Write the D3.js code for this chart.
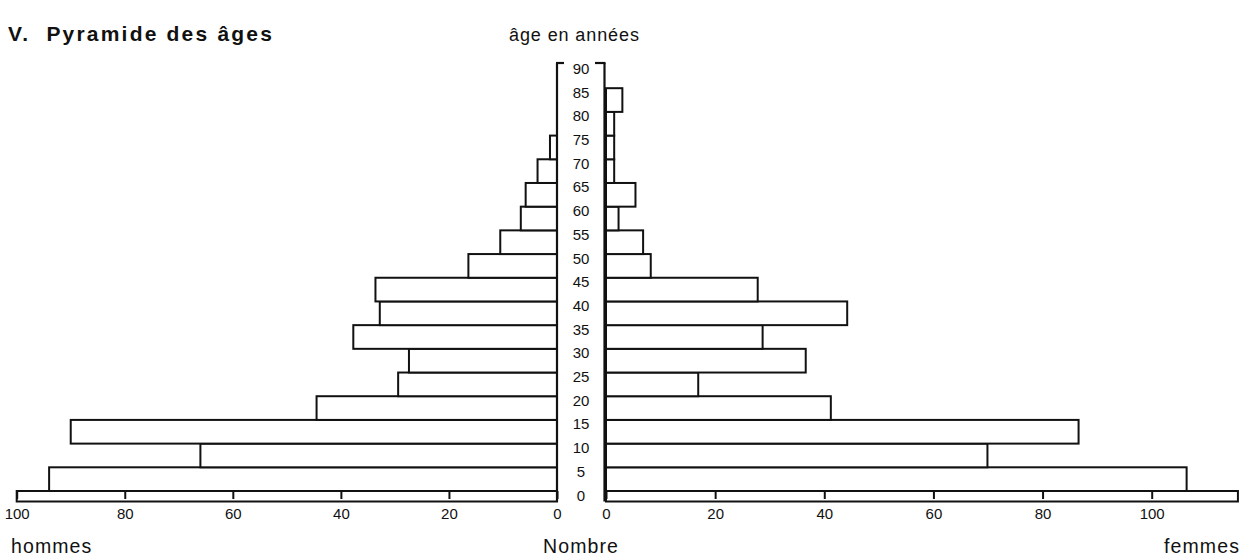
<!DOCTYPE html>
<html>
<head>
<meta charset="utf-8">
<script src="https://cdn.jsdelivr.net/npm/d3@7"></script>
<style>
  body { margin: 0; background: #fff; }
  svg text { font-family: "Liberation Sans", Arial, Helvetica, sans-serif; fill: #111; }
</style>
</head>
<body>
<script>
// age groups (lower bound of each 5-year band)
const ages = [0, 5, 10, 15, 20, 25, 30, 35, 40, 45, 50, 55, 60, 65, 70, 75, 80, 85];
const hommes = [94, 66, 90, 44.5, 29.4, 27.4, 37.7, 32.8, 33.6, 16.4, 10.5, 6.7, 5.8, 3.6, 1.3, 0, 0, 0];
const femmes = [106.4, 69.9, 86.6, 41.2, 16.9, 36.6, 28.7, 44.2, 27.8, 8.2, 6.8, 2.3, 5.4, 1.5, 1.5, 1.5, 3, 0];
const ageTicks = [0, 5, 10, 15, 20, 25, 30, 35, 40, 45, 50, 55, 60, 65, 70, 75, 80, 85, 90];
const leftTicks = [0, 20, 40, 60, 80, 100];
const rightTicks = [0, 20, 40, 60, 80, 100];

main();

function main() {
  const width = 1244;
  const height = 556;
  const ink = "#111";
  const sw = 2;

  const svg = d3.select("body").append("svg")
    .attr("width", width)
    .attr("height", height);

  const xL = d3.scaleLinear().domain([0, 100]).range([557, 16.7]);
  const xR = d3.scaleLinear().domain([0, 100]).range([606, 1151.7]);
  const y = d3.scaleLinear().domain([0, 90]).range([491, 64.5]);
  const rightMax = 115.8;
  const stripH = 10.5;

  // bars
  svg.append("g").selectAll("rect")
    .data(ages.filter((a, i) => hommes[i] > 0))
    .join("rect")
    .attr("x", a => xL(hommes[ages.indexOf(a)]))
    .attr("y", a => y(a + 5))
    .attr("width", a => xL(0) - xL(hommes[ages.indexOf(a)]))
    .attr("height", a => y(a) - y(a + 5))
    .attr("fill", "#fff").attr("stroke", ink).attr("stroke-width", sw);

  svg.append("g").selectAll("rect")
    .data(ages.filter((a, i) => femmes[i] > 0))
    .join("rect")
    .attr("x", xR(0))
    .attr("y", a => y(a + 5))
    .attr("width", a => xR(femmes[ages.indexOf(a)]) - xR(0))
    .attr("height", a => y(a) - y(a + 5))
    .attr("fill", "#fff").attr("stroke", ink).attr("stroke-width", sw);

  // bottom strips
  svg.append("rect")
    .attr("x", xL(100)).attr("y", y(0))
    .attr("width", xL(0) - xL(100)).attr("height", stripH)
    .attr("fill", "#fff").attr("stroke", ink).attr("stroke-width", sw);
  svg.append("rect")
    .attr("x", xR(0)).attr("y", y(0))
    .attr("width", xR(rightMax) - xR(0)).attr("height", stripH)
    .attr("fill", "#fff").attr("stroke", ink).attr("stroke-width", sw);

  const axL = svg.append("g")
    .attr("transform", `translate(0,${y(0)})`)
    .call(d3.axisBottom(xL).tickValues(leftTicks).tickSize(8).tickPadding(9));
  const axR = svg.append("g")
    .attr("transform", `translate(0,${y(0)})`)
    .call(d3.axisBottom(xR).tickValues(rightTicks).tickSize(8).tickPadding(9));
  [axL, axR].forEach(g => {
    g.select(".domain").remove();
    g.selectAll("line").attr("stroke", ink).attr("stroke-width", sw);
    g.selectAll("text").attr("font-size", 15).attr("fill", ink)
      .style("font-family", "'Liberation Sans', Arial, sans-serif");
  });

  // central age column
  const top = y(90) - 1.5;
  const bottom = y(0) + stripH;
  svg.append("line").attr("x1", xL(0)).attr("x2", xL(0)).attr("y1", top).attr("y2", bottom)
    .attr("stroke", ink).attr("stroke-width", 2.2);
  svg.append("line").attr("x1", xR(0) - 1.5).attr("x2", xR(0) - 1.5).attr("y1", top).attr("y2", bottom)
    .attr("stroke", ink).attr("stroke-width", 2.2);
  svg.append("line").attr("x1", xL(0) - 1).attr("x2", xL(0) + 7).attr("y1", top).attr("y2", top)
    .attr("stroke", ink).attr("stroke-width", 2.2);
  svg.append("line").attr("x1", xR(0) - 11).attr("x2", xR(0) - 0.5).attr("y1", top).attr("y2", top)
    .attr("stroke", ink).attr("stroke-width", 2.2);

  const axAge = svg.append("g")
    .attr("transform", `translate(581,0)`)
    .call(d3.axisRight(y).tickValues(ageTicks).tickSize(0).tickPadding(0));
  axAge.select(".domain").remove();
  axAge.selectAll("text")
    .attr("x", 0).attr("dy", "0.6em")
    .attr("text-anchor", "middle")
    .attr("font-size", 15).attr("fill", ink)
    .style("font-family", "'Liberation Sans', Arial, sans-serif");

  // texts
  svg.append("text").attr("x", 8).attr("y", 41)
    .attr("font-size", 21).attr("font-weight", "bold")
    .attr("letter-spacing", 2.2)
    .style("white-space", "pre")
    .text("V.  Pyramide des âges");
  svg.append("text").attr("x", 509).attr("y", 41)
    .attr("font-size", 18).attr("letter-spacing", 0.9)
    .text("âge en années");
  svg.append("text").attr("x", 11).attr("y", 553)
    .attr("font-size", 19.5).attr("letter-spacing", 1.1)
    .text("hommes");
  svg.append("text").attr("x", 543).attr("y", 553)
    .attr("font-size", 19.5).attr("letter-spacing", 1.1)
    .text("Nombre");
  svg.append("text").attr("x", 1240).attr("y", 553)
    .attr("font-size", 19.5).attr("letter-spacing", 1.1)
    .attr("text-anchor", "end")
    .text("femmes");
}
</script>
</body>
</html>
